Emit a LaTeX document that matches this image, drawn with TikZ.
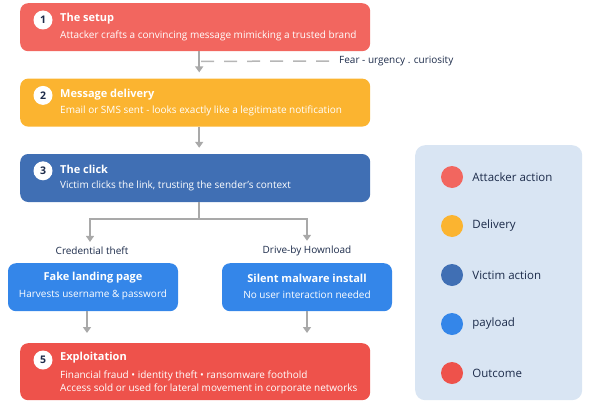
\documentclass[tikz,border=0pt]{standalone}
\usepackage{fontspec}
\setmainfont{Open Sans}
\usetikzlibrary{positioning, arrows.meta}
\definecolor{setupred}{HTML}{F2665F}
\definecolor{deliveryamber}{HTML}{FBB430}
\definecolor{clickblue}{HTML}{406FB4}
\definecolor{payloadblue}{HTML}{3486E9}
\definecolor{outcomered}{HTML}{EE524B}
\definecolor{legendbg}{HTML}{D9E5F3}
\definecolor{inkdark}{HTML}{1C2B4A}
\definecolor{linkgrey}{HTML}{A9A9A9}
\newcommand\stagewidth{350pt}
\newcommand\stageheight{48pt}
\newcommand\stagegap{27pt}
\tikzstyle{stage} = [rectangle, rounded corners=8pt, minimum width=\stagewidth, minimum height=\stageheight, inner sep=0pt]
\tikzstyle{payload} = [rectangle, rounded corners=8pt, fill=payloadblue, minimum width=170pt, minimum height=48pt, inner sep=0pt]
\tikzstyle{badge} = [circle, fill=white, minimum size=19pt, inner sep=0pt, text=inkdark, font=\fontsize{10.5}{12}\selectfont\bfseries]
\tikzstyle{heading} = [text=white, inner sep=0pt, font=\fontsize{11}{13}\selectfont\bfseries]
\tikzstyle{detail} = [text=white, inner sep=0pt, font=\fontsize{10}{12}\selectfont]
\tikzstyle{caption} = [text=inkdark, inner sep=2pt, font=\fontsize{10}{12}\selectfont]
\tikzstyle{swatch} = [circle, minimum size=22pt, inner sep=0pt]
\tikzstyle{link} = [line width=2pt, draw=linkgrey]
\tikzstyle{arrow} = [link, -{Triangle[width=8pt,length=6pt]}]
\tikzstyle{hint} = [line width=1.5pt, draw=linkgrey!85, dash pattern=on 13pt off 10pt]

\begin{document}
\begin{tikzpicture}[x=1pt, y=-1pt, node distance=\stagegap]
\useasboundingbox (0,0) rectangle (593,404);

\node (setup) [stage, fill=setupred, anchor=north west] at (20,3) {};
\node (delivery) [stage, fill=deliveryamber, below=of setup] {};
\node (click) [stage, fill=clickblue, below=of delivery] {};
\node (fake) [payload, anchor=north] at (93,263) {};
\node (silent) [payload, anchor=north] at (307,263) {};
\node (exploit) [stage, fill=outcomered, minimum height=57pt, anchor=north west] at (20,343) {};

\node (n1) [badge] at ([shift={(23,17)}]setup.north west) {1};
\node [heading, anchor=west] at ([shift={(40,16)}]setup.north west) {The setup};
\node [detail, anchor=west] at ([shift={(40,33)}]setup.north west) {Attacker crafts a convincing message mimicking a trusted brand};

\node (n2) [badge] at ([shift={(23,17)}]delivery.north west) {2};
\node [heading, anchor=west] at ([shift={(40,16)}]delivery.north west) {Message delivery};
\node [detail, anchor=west] at ([shift={(40,32)}]delivery.north west) {Email or SMS sent - looks exactly like a legitimate notification};

\node (n3) [badge] at ([shift={(23,17)}]click.north west) {3};
\node [heading, anchor=west] at ([shift={(40,16)}]click.north west) {The click};
\node [detail, anchor=west] at ([shift={(40,32)}]click.north west) {Victim clicks the link, trusting the sender's context};

\node [heading] at ([yshift=-15pt]fake.north) {Fake landing page};
\node [detail] at ([yshift=-32pt]fake.north) {Harvests username \& password};
\node [heading] at ([yshift=-15pt]silent.north) {Silent malware install};
\node [detail] at ([yshift=-32pt]silent.north) {No user interaction needed};

\node (n5) [badge] at ([shift={(23,17)}]exploit.north west) {5};
\node [heading, anchor=west] at ([shift={(40,15)}]exploit.north west) {Exploitation};
\node [detail, anchor=west] at ([shift={(40,33)}]exploit.north west) {Financial fraud • identity theft • ransomware foothold};
\node [detail, anchor=west] at ([shift={(40,46)}]exploit.north west) {Access sold or used for lateral movement in corporate networks};

\node (lurelabel) [caption, anchor=west] at (337,61) {Fear - urgency . curiosity};
\node (credlabel) [caption] at (92,251) {Credential theft};
\node (drivelabel) [caption] at (307,251) {Drive-by Hownload};

% legend
\node (legend) [rectangle, rounded corners=10pt, fill=legendbg, minimum width=167pt, minimum height=255pt, anchor=north west] at (415,145) {};
\foreach \col/\txt [count=\i] in {setupred/Attacker action, deliveryamber/Delivery, clickblue/Victim action, payloadblue/payload, outcomered/Outcome}{
    \node (key\i) [swatch, fill=\col] at (452,{177+49*(\i-1)}) {};
    \node [caption, inner sep=0pt, font=\fontsize{11.5}{13}\selectfont, right=9pt of key\i] {\txt};
}

\coordinate (lure) at ([shift={(6,10)}]setup.south);
\coordinate (split) at ([shift={(4,17)}]click.south);

\draw [arrow, shorten >=6pt] ([xshift=4pt]setup.south) -- ([xshift=4pt]delivery.north);
\draw [hint] (lure) -- (lurelabel.west);
\draw [arrow, shorten >=6pt] ([xshift=4pt]delivery.south) -- ([xshift=4pt]click.north);
\draw [link] ([xshift=4pt]click.south) -- (split);
\draw [arrow, shorten >=3pt] (split) -| ([xshift=-2pt]credlabel.north);
\draw [arrow, shorten >=3pt] (split) -| (drivelabel.north);
\draw [arrow, shorten >=10pt] ([xshift=-6pt]fake.south) -- ([xshift=-6pt]fake.south |- exploit.north);
\draw [arrow, shorten >=10pt] (silent.south) -- (silent.south |- exploit.north);

\end{tikzpicture}
\end{document}
